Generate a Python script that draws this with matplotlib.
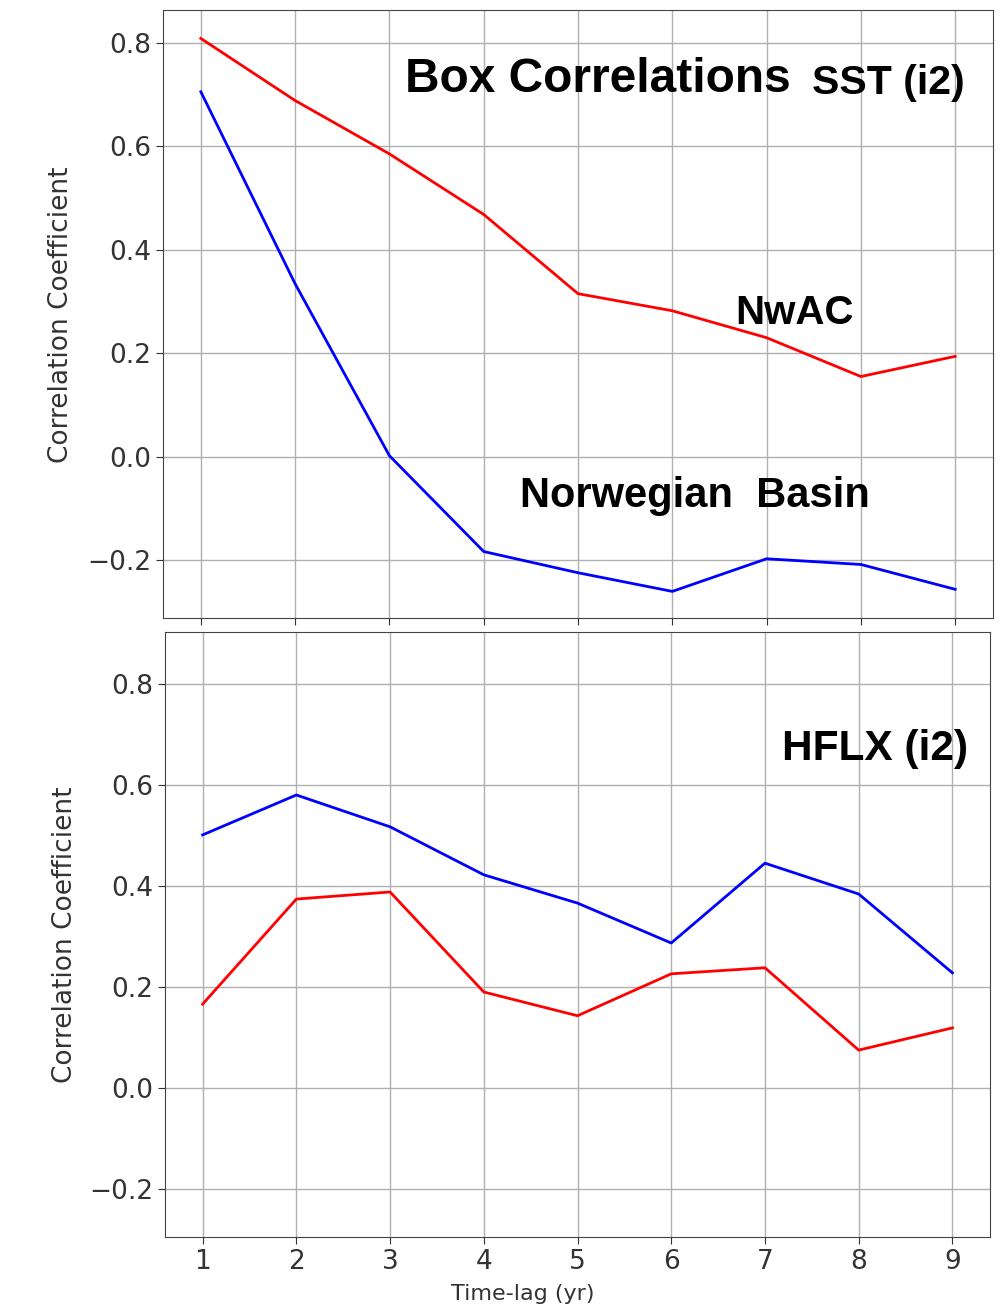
import matplotlib.pyplot as plt

# Time lags (years)
lags = [1, 2, 3, 4, 5, 6, 7, 8, 9]

# SST (i2) box correlations
sst_nwac = [0.808, 0.688, 0.585, 0.468, 0.315, 0.282, 0.230, 0.155, 0.194]
sst_norbasin = [0.705, 0.334, 0.002, -0.183, -0.224, -0.260, -0.197, -0.208, -0.256]

# HFLX (i2) box correlations
hflx_nwac = [0.166, 0.374, 0.388, 0.190, 0.143, 0.226, 0.238, 0.075, 0.119]
hflx_norbasin = [0.501, 0.580, 0.517, 0.422, 0.366, 0.287, 0.445, 0.384, 0.228]

yticks = [-0.2, 0.0, 0.2, 0.4, 0.6, 0.8]

fig = plt.figure(figsize=(10.07, 13.1), dpi=100)
ax1 = fig.add_axes([0.162, 0.528, 0.824, 0.464])
ax2 = fig.add_axes([0.164, 0.0557, 0.819, 0.462])

bold = dict(family='Liberation Sans', fontweight='bold', color='black', va='center')

# top panel: SST
ax1.plot(lags, sst_nwac, color='red', lw=2)
ax1.plot(lags, sst_norbasin, color='blue', lw=2)
ax1.set_ylim(-0.312, 0.862)
ax1.set_xticklabels([])
ax1.text(0.292, 0.886, "Box Correlations", transform=ax1.transAxes, fontsize=34.5, **bold)
ax1.text(0.782, 0.880, "SST (i2)", transform=ax1.transAxes, fontsize=29.5, **bold)
ax1.text(0.690, 0.502, "NwAC", transform=ax1.transAxes, fontsize=29, **bold)
ax1.text(0.430, 0.202, "Norwegian  Basin", transform=ax1.transAxes, fontsize=30, **bold)
ax1.yaxis.set_label_coords(-0.108, 0.497)

# bottom panel: HFLX
ax2.plot(lags, hflx_norbasin, color='blue', lw=2)
ax2.plot(lags, hflx_nwac, color='red', lw=2)
ax2.set_ylim(-0.295, 0.903)
ax2.text(0.748, 0.806, "HFLX (i2)", transform=ax2.transAxes, fontsize=30.5, **bold)
ax2.set_xlabel("Time-lag (yr)", fontsize=16, color='#333333')
ax2.xaxis.set_label_coords(0.434, -0.078)
ax2.yaxis.set_label_coords(-0.106, 0.497)

for ax in (ax1, ax2):
    ax.set_xticks(lags)
    ax.set_yticks(yticks)
    ax.grid(True, color='#b0b0b0', lw=1)
    ax.tick_params(labelsize=19, length=5, colors='#333333')
    ax.set_ylabel("Correlation Coefficient", fontsize=19, color='#333333')
    for s in ax.spines.values():
        s.set_color('#444444')

plt.savefig("out.png", dpi=100)
